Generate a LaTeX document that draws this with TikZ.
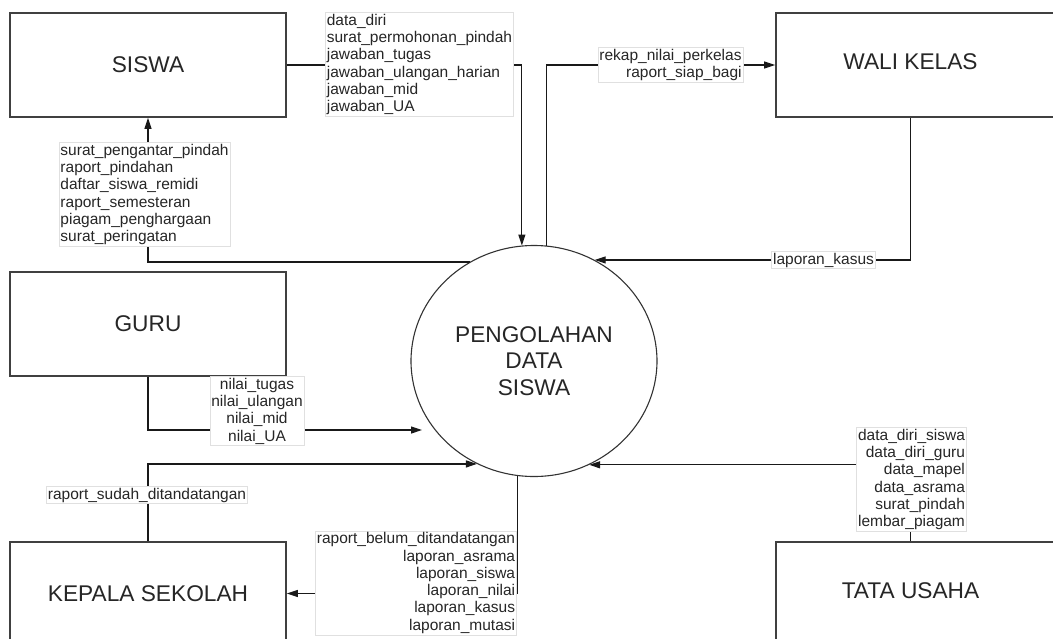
\documentclass[tikz,border=0pt]{standalone}
\usepackage{fontspec}
\setmainfont{Liberation Sans}
\usetikzlibrary{shapes.geometric,arrows.meta}
\begin{document}
\begin{tikzpicture}[x=1pt,y=-1pt,
  entity/.style={draw=black!75,line width=1.6pt,fill=white,rectangle,inner sep=0pt,
    font=\fontsize{22.7}{26.3}\selectfont,text=black!85},
  title/.style={font=\fontsize{22.7}{26.3}\selectfont,text=black!85,inner sep=0pt},
  process/.style={ellipse,draw=black!80,line width=1.1pt,minimum width=246pt,
    minimum height=231pt,inner sep=0pt,align=center,
    font=\fontsize{22.7}{26.3}\selectfont,text=black!85},
  flow/.style={draw=black!90,line width=1.2pt,-{Triangle[length=11pt,width=7pt]}},
  flowlabel/.style={draw=black!12,line width=0.6pt,fill=white,inner sep=1.5pt,
    font=\fontsize{15.5}{17.3}\selectfont,text=black!85}
]
\clip (0,0) rectangle (1053,638);
\fill[white] (0,0) rectangle (1053,638);

% external entities
\node[entity,minimum width=276pt,minimum height=104pt] (siswa) at (148,65) {SISWA};
\node[entity,minimum width=276pt,minimum height=104pt] (guru) at (148,324) {GURU};
\node[entity,minimum width=276pt,minimum height=103pt] (kepala) at (148,593.5) {KEPALA SEKOLAH};
\node[entity,minimum width=290pt,minimum height=104pt] (wali) at (921,65) {};
\node[title] (walititle) at (910.5,62) {WALI KELAS};
\node[entity,minimum width=290pt,minimum height=103pt] (tata) at (921,593.5) {};
\node[title] (tatatitle) at (910.5,591) {TATA USAHA};

% process
\node[process] (proc) at (534,361) {PENGOLAHAN\\DATA\\SISWA};

% data flows
\draw[flow] (siswa.east) -| (proc.96.96);
\draw[flow] (proc.84.5) |- (wali.west);
\draw[flow] (walititle |- wali.south) |- (proc.59.4);
\draw[flow] (proc.123.6) -| (siswa.south);
\coordinate (guruin) at (422,430);
\draw[flow] (guru.south) |- (guruin);
\draw[flow] (kepala.north) |- (proc.241.6);
\draw[flow] (proc.262.05) |- (kepala.east);
\draw[flow] (tatatitle |- tata.north) |- (proc.298.4);

% flow labels
\node[flowlabel,align=left] (lsiswaout) at (419.5,64.5)
  {data\_diri\\surat\_permohonan\_pindah\\jawaban\_tugas\\jawaban\_ulangan\_harian\\jawaban\_mid\\jawaban\_UA};
\node[flowlabel,align=right] (lwaliin) at (670.5,65)
  {rekap\_nilai\_perkelas\\raport\_siap\_bagi};
\node[flowlabel] (lwaliout) at (823.5,260) {laporan\_kasus};
\node[flowlabel,align=left] (lsiswain) at (144.5,194.5)
  {surat\_pengantar\_pindah\\raport\_pindahan\\daftar\_siswa\_remidi\\raport\_semesteran\\piagam\_penghargaan\\surat\_peringatan};
\node[flowlabel,align=center] (lguru) at (257,411)
  {nilai\_tugas\\nilai\_ulangan\\nilai\_mid\\nilai\_UA};
\node[flowlabel] (lkepalaout) at (147,495) {raport\_sudah\_ditandatangan};
\node[flowlabel,align=right] (lkepalain) at (416,583)
  {raport\_belum\_ditandatangan\\laporan\_asrama\\laporan\_siswa\\laporan\_nilai\\laporan\_kasus\\laporan\_mutasi};
\node[flowlabel,align=right] (ltata) at (911.5,479.5)
  {data\_diri\_siswa\\data\_diri\_guru\\data\_mapel\\data\_asrama\\surat\_pindah\\lembar\_piagam};
\end{tikzpicture}
\end{document}
